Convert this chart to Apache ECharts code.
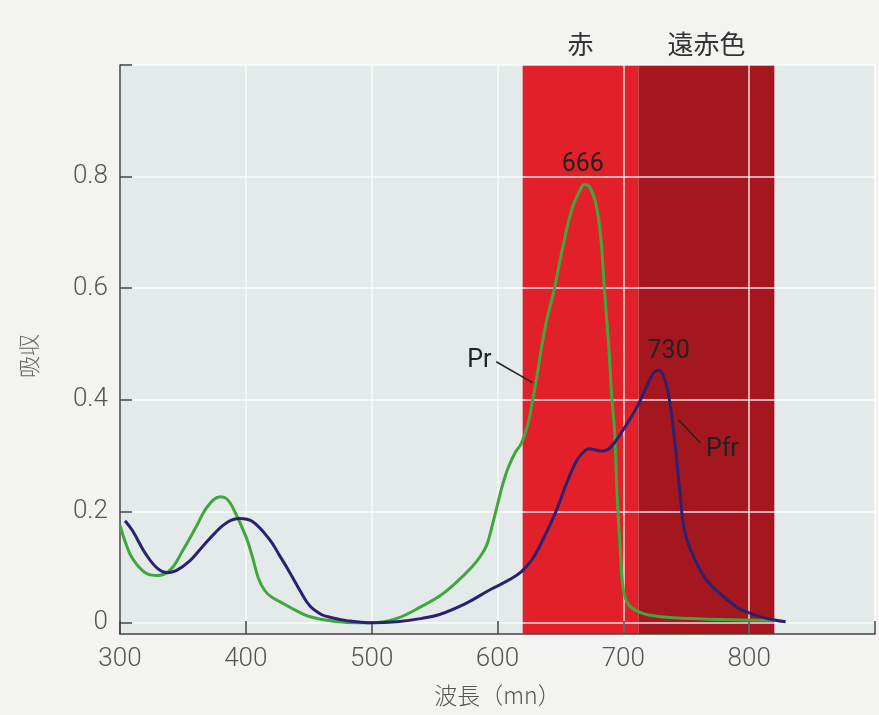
<!DOCTYPE html>
<html>
<head>
<meta charset="utf-8">
<script src="https://cdn.jsdelivr.net/npm/echarts@6/dist/echarts.min.js"></script>
<style>
  html, body { margin: 0; padding: 0; background: #f3f3f1; }
  #main { width: 879px; height: 715px; }
</style>
</head>
<body>
<div id="main"></div>
<script>
// 波長 (nm) と吸収
var prWave = [300, 305, 310, 320, 330, 340, 350, 360, 370, 380, 385, 390, 400, 405, 410, 415, 420, 427, 440, 451, 470, 490, 500, 520, 540, 554, 567, 580, 586, 591, 594, 597, 600, 603, 606, 609, 614, 618.5, 622, 625, 630, 638, 645, 651.5, 659, 665, 669, 673, 678, 682, 685, 688.4, 691, 693, 695, 697.7, 700, 704, 712, 720, 740, 780, 820];
var prAbs = [0.175, 0.14, 0.115, 0.09, 0.085, 0.095, 0.13, 0.17, 0.21, 0.226, 0.222, 0.205, 0.155, 0.12, 0.08, 0.058, 0.047, 0.038, 0.022, 0.011, 0.003, 0.0, 0.0, 0.008, 0.03, 0.048, 0.072, 0.101, 0.118, 0.137, 0.158, 0.185, 0.212, 0.239, 0.262, 0.281, 0.305, 0.32, 0.34, 0.364, 0.425, 0.531, 0.597, 0.669, 0.741, 0.773, 0.786, 0.782, 0.753, 0.693, 0.597, 0.496, 0.399, 0.346, 0.233, 0.125, 0.06, 0.033, 0.02, 0.014, 0.009, 0.006, 0.004];

var pfrWave = [304, 310, 320, 330, 338, 345, 355, 365, 375, 385, 395, 405, 419, 427, 435, 443, 451, 460, 467, 480, 500, 520, 540, 554, 575, 593, 600, 610, 619, 627, 633, 646, 654, 662, 667, 673, 678, 683, 690, 699, 709.6, 717.5, 724, 728, 733, 737, 741, 745, 749, 757, 765, 773, 791, 800, 807, 820, 829];
var pfrAbs = [0.183, 0.165, 0.125, 0.097, 0.09, 0.094, 0.11, 0.135, 0.16, 0.18, 0.187, 0.182, 0.149, 0.12, 0.09, 0.058, 0.03, 0.015, 0.01, 0.004, 0.0, 0.002, 0.008, 0.015, 0.035, 0.058, 0.066, 0.078, 0.092, 0.112, 0.135, 0.197, 0.245, 0.287, 0.303, 0.312, 0.31, 0.308, 0.315, 0.343, 0.382, 0.418, 0.448, 0.453, 0.436, 0.394, 0.323, 0.233, 0.161, 0.113, 0.08, 0.06, 0.027, 0.018, 0.012, 0.005, 0.002];

// 光の帯 (赤, 遠赤色)
var bandNames = ['赤', '遠赤色'];
var bandRanges = [[620, 712], [712, 820]];
var bandColors = ['#e2202a', '#a5171e'];

var yTicks = [0, 0.2, 0.4, 0.6, 0.8, 1.0];
var yLabels = [0, 0.2, 0.4, 0.6, 0.8];

// 注記 (ピーク値と曲線名)
var peakTexts = ['666', '730'];
var peakCoords = [[667.8, 0.821], [736, 0.486]];
var nameTexts = ['Pr', 'Pfr'];
var nameCoords = [[585.5, 0.47], [778.7, 0.311]];
var leaderLines = [[[599, 0.468], [627.5, 0.431]], [[743.8, 0.364], [761.2, 0.323]]];

function pairs(xs, ys) {
  return xs.map(function (x, i) { return [x, ys[i]]; });
}

var font = 'Roboto, "Noto Sans CJK JP", sans-serif';
var chart = echarts.init(document.getElementById('main'));

var option = {
  backgroundColor: '#f3f3f1',
  animation: false,
  textStyle: { fontFamily: font },
  grid: {
    left: 120, right: 4, top: 65, bottom: 81,
    show: true, backgroundColor: '#e4eaea', borderWidth: 0
  },
  xAxis: {
    type: 'value', min: 300, max: 900, interval: 100, z: 1.5,
    name: '波長（mn）', nameLocation: 'middle', nameGap: 50,
    nameTextStyle: { fontSize: 23, color: '#555', fontFamily: '"Noto Sans CJK JP", sans-serif', fontWeight: 300 },
    axisLine: { onZero: false, lineStyle: { color: '#444', width: 1.5 } },
    axisTick: { inside: true, length: 13, lineStyle: { color: '#444', width: 1.5 } },
    axisLabel: {
      margin: 12, fontSize: 26, color: '#555', fontWeight: 300,
      formatter: function (v) { return v === 900 ? '' : String(v); }
    },
    splitLine: { show: true, lineStyle: { color: 'rgba(255,255,255,0.85)', width: 1.5 } }
  },
  yAxis: {
    type: 'value', min: -0.02, max: 1.0, z: 1.5,
    axisLine: { onZero: false, lineStyle: { color: '#444', width: 1.5 } },
    axisTick: { inside: true, length: 12, customValues: yTicks, lineStyle: { color: '#444', width: 1.5 } },
    axisLabel: {
      margin: 12, fontSize: 26, color: '#555', fontWeight: 300, customValues: yLabels,
      formatter: function (v) { return v === 0 ? '0' : v.toFixed(1); }
    },
    splitLine: { show: true, lineStyle: { color: 'rgba(255,255,255,0.85)', width: 1.5 } }
  },
  graphic: [{
    type: 'text', left: 18, top: 334, rotation: Math.PI / 2,
    style: { text: '吸収', fontSize: 22, fill: '#666', fontFamily: '"Noto Sans CJK JP", sans-serif', fontWeight: 300 }
  }],
  series: [
    {
      name: 'bands', type: 'line', data: [], z: 1,
      markArea: {
        silent: true,
        label: { show: true, position: 'top', distance: 8, fontSize: 26, color: '#333', fontFamily: '"Noto Sans CJK JP", sans-serif' },
        data: bandRanges.map(function (r, i) {
          return [
            { name: bandNames[i], xAxis: r[0], yAxis: -0.02, itemStyle: { color: bandColors[i] } },
            { xAxis: r[1], yAxis: 1.0 }
          ];
        })
      }
    },
    {
      name: 'Pr', type: 'line', data: pairs(prWave, prAbs), z: 3,
      smooth: 0.4, showSymbol: false,
      lineStyle: { color: '#3ea83c', width: 3 },
      markPoint: {
        symbol: 'circle', symbolSize: 0, silent: true,
        label: { show: true, position: 'inside', fontSize: 25, color: '#222', formatter: '{b}' },
        data: [
          { name: peakTexts[0], coord: peakCoords[0] },
          { name: nameTexts[0], coord: nameCoords[0] }
        ]
      },
      markLine: {
        silent: true, symbol: 'none',
        lineStyle: { color: '#222', width: 1.5, type: 'solid' },
        label: { show: false },
        data: [[{ coord: leaderLines[0][0] }, { coord: leaderLines[0][1] }]]
      }
    },
    {
      name: 'Pfr', type: 'line', data: pairs(pfrWave, pfrAbs), z: 3,
      smooth: 0.4, showSymbol: false,
      lineStyle: { color: '#2b2170', width: 3 },
      markPoint: {
        symbol: 'circle', symbolSize: 0, silent: true,
        label: { show: true, position: 'inside', fontSize: 25, color: '#222', formatter: '{b}' },
        data: [
          { name: peakTexts[1], coord: peakCoords[1] },
          { name: nameTexts[1], coord: nameCoords[1] }
        ]
      },
      markLine: {
        silent: true, symbol: 'none',
        lineStyle: { color: '#222', width: 1.5, type: 'solid' },
        label: { show: false },
        data: [[{ coord: leaderLines[1][0] }, { coord: leaderLines[1][1] }]]
      }
    }
  ]
};
chart.setOption(option);
</script>
</body>
</html>
